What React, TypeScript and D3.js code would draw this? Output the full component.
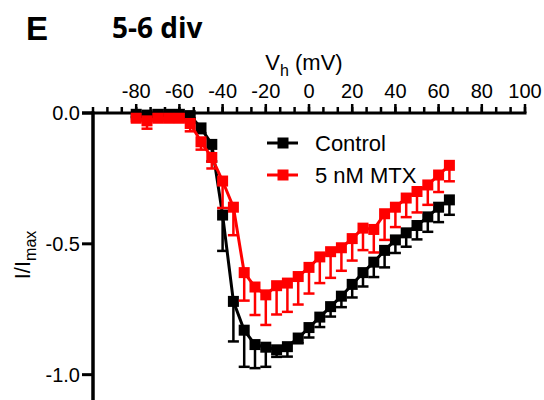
import React from 'react';
import * as d3 from 'd3';

// holding potentials (mV)
const voltages = [-80, -75, -70, -65, -60, -55, -50, -45, -40, -35, -30, -25, -20, -15, -10, -5, 0, 5, 10, 15, 20, 25, 30, 35, 40, 45, 50, 55, 60, 65];

const control = [-0.005, -0.008, -0.005, -0.005, -0.005, -0.01, -0.057, -0.12, -0.39, -0.72, -0.83, -0.885, -0.895, -0.905, -0.893, -0.86, -0.82, -0.78, -0.74, -0.7, -0.655, -0.61, -0.57, -0.525, -0.485, -0.458, -0.43, -0.397, -0.36, -0.332];
const controlErr = [0.01, 0.02, 0.01, 0.01, 0.01, 0.01, 0.02, 0.065, 0.137, 0.153, 0.14, 0.09, 0.075, 0.027, 0.038, 0.02, 0.038, 0.038, 0.038, 0.042, 0.05, 0.053, 0.057, 0.065, 0.05, 0.053, 0.053, 0.057, 0.057, 0.057];

const mtx = [-0.02, -0.03, -0.02, -0.02, -0.02, -0.04, -0.11, -0.17, -0.26, -0.36, -0.61, -0.665, -0.695, -0.66, -0.65, -0.625, -0.59, -0.55, -0.53, -0.515, -0.48, -0.44, -0.445, -0.385, -0.36, -0.325, -0.3, -0.275, -0.237, -0.2];
const mtxErr = [0.011, 0.03, 0.011, 0.011, 0.011, 0.03, 0.03, 0.042, 0.103, 0.107, 0.107, 0.107, 0.115, 0.11, 0.11, 0.107, 0.1, 0.1, 0.1, 0.088, 0.084, 0.084, 0.088, 0.1, 0.076, 0.073, 0.08, 0.076, 0.065, 0.061];

const xTicks = [-80, -60, -40, -20, 0, 20, 40, 60, 80, 100];
const yTicks = [0, -0.5, -1.0];

const series = [
    {name: 'Control', color: '#000000', values: control, err: controlErr},
    {name: '5 nM MTX', color: '#ff0000', values: mtx, err: mtxErr}
];

const font = 'Arial, "Liberation Sans", sans-serif';

const App = () => {
    const width = 544, height = 400;
    const x = d3.scaleLinear().domain([-100, 100]).range([93, 525]);
    const y = d3.scaleLinear().domain([0, -1.2]).range([113, 427]);
    const minor = d3.range(-100, 100.01, 20 / 3);
    const line = d3.line<number>()
        .x((d, i) => x(voltages[i]))
        .y(d => y(d));
    const sq = 11;
    const cap = 5.5;
    const x0 = x(-100);

    return (
        <svg width={width} height={height} style={{position: 'absolute', left: 0, top: 0}}>
            <rect width={width} height={height} fill="#fff"/>
            <text x={26} y={40} fontFamily={font} fontWeight="bold" fontSize={33}>E</text>
            <text x={112} y={38} fontFamily='"Open Sans", sans-serif' fontWeight="bold" fontSize={28}>5-6 div</text>

            {/* x axis on top */}
            <text x={304} y={70} textAnchor="middle" fontFamily={font} fontSize={22}>
                V<tspan fontSize={16} dy={6}>h</tspan><tspan dy={-6}> (mV)</tspan>
            </text>
            <line x1={82} x2={x(100) + 1.5} y1={y(0)} y2={y(0)} stroke="#000" strokeWidth={3}/>
            {minor.map((t, i) => (
                <line key={'m' + i} x1={x(t)} x2={x(t)} y1={y(0)} y2={y(0) - 6} stroke="#000" strokeWidth={2.5}/>
            ))}
            {xTicks.map(t => (
                <g key={'x' + t}>
                    <line x1={x(t)} x2={x(t)} y1={y(0)} y2={y(0) - 9} stroke="#000" strokeWidth={2.5}/>
                    <text x={x(t)} y={98} textAnchor="middle" fontFamily={font} fontSize={20}>{t}</text>
                </g>
            ))}

            {/* y axis */}
            <line x1={x0} x2={x0} y1={y(0) - 1.5} y2={height + 10} stroke="#000" strokeWidth={3.5}/>
            {yTicks.map(t => (
                <g key={'y' + t}>
                    <line x1={82} x2={x0} y1={y(t)} y2={y(t)} stroke="#000" strokeWidth={3}/>
                    <text x={80} y={y(t) + 7} textAnchor="end" fontFamily={font} fontSize={20}>{t.toFixed(1)}</text>
                </g>
            ))}
            <text transform={'translate(30,255) rotate(-90)'} textAnchor="middle" fontFamily={font} fontSize={22}>
                I/I<tspan fontSize={16} dy={6}>max</tspan>
            </text>

            {series.map(s => (
                <g key={s.name}>
                    {s.values.map((v, i) => {
                        const cx = x(voltages[i]);
                        const y2 = y(v - s.err[i]);
                        return (
                            <g key={i}>
                                <line x1={cx} x2={cx} y1={y(v)} y2={y2} stroke={s.color} strokeWidth={2.5}/>
                                <line x1={cx - cap} x2={cx + cap} y1={y2} y2={y2} stroke={s.color} strokeWidth={2.5}/>
                            </g>
                        );
                    })}
                    <path d={line(s.values) || ''} fill="none" stroke={s.color} strokeWidth={3}/>
                    {s.values.map((v, i) => (
                        <rect key={'p' + i} x={x(voltages[i]) - sq / 2} y={y(v) - sq / 2} width={sq} height={sq} fill={s.color}/>
                    ))}
                </g>
            ))}

            {/* legend */}
            {series.map((s, i) => (
                <g key={'l' + s.name} transform={'translate(0,' + (143 + i * 32) + ')'}>
                    <line x1={267} x2={298} y1={0} y2={0} stroke={s.color} strokeWidth={3}/>
                    <rect x={277.5} y={-5.5} width={11} height={11} fill={s.color}/>
                    <text x={315} y={7.5} fontFamily={font} fontSize={22}>{s.name}</text>
                </g>
            ))}
        </svg>
    );
};

export default App;
